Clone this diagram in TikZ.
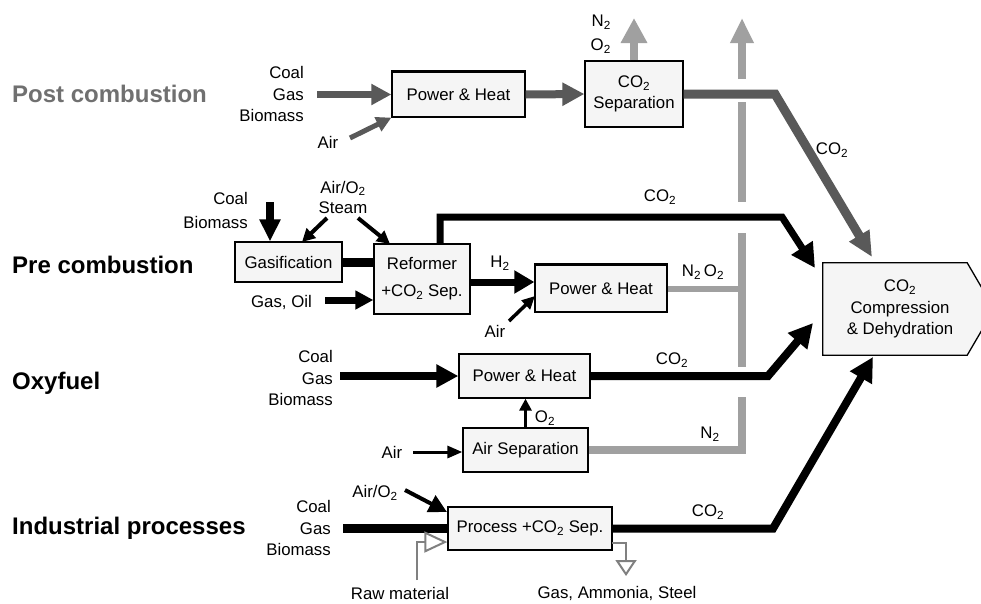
\documentclass[tikz,border=0pt]{standalone}
\usepackage{fontspec}
\setmainfont{Liberation Sans}
\usetikzlibrary{arrows.meta}
\newcommand{\two}{\textsubscript{2}}
\definecolor{dg}{HTML}{595959}
\definecolor{lg}{HTML}{A0A0A0}
\definecolor{mg}{HTML}{808080}
\definecolor{boxfill}{HTML}{F5F5F5}
\definecolor{titlegray}{HTML}{707070}
\begin{document}
\begin{tikzpicture}[x=1pt,y=-1pt,
  lbl/.style={inner sep=0pt, font=\fontsize{16.8}{21.5}\selectfont},
  ttl/.style={inner sep=0pt, anchor=west, font=\fontsize{24}{28}\selectfont\bfseries},
  box/.style={draw=black, line width=1.3pt, fill=boxfill, inner sep=0pt, align=center, font=\fontsize{16.8}{21}\selectfont},
  dgline/.style={draw=dg, line width=#1},
  bkline/.style={draw=black, line width=#1},
  lgline/.style={draw=lg, line width=#1},
  trib/.style 2 args={-{Triangle[length=#1pt,width=#2pt]}},
]
\useasboundingbox (0,0) rectangle (981,603);
\clip (0,0) rectangle (981,603);
\fill[white] (0,0) rectangle (981,603);

% ---------- titles
\node[ttl, text=titlegray] (tpost) at (12,94) {Post combustion};
\node[ttl] (tpre) at (12,265) {Pre combustion};
\node[ttl] (toxy) at (12,383) {Oxyfuel};
\node[ttl] (tind) at (12,528) {Industrial processes};

% ---------- boxes
\node[box, minimum width=133pt, minimum height=45pt] (ph1) at (458.5,94.5) {Power \& Heat};
\node[box, minimum width=98pt, minimum height=66pt] (sep1) at (634,94) {CO\two\\Separation};
\node[box, minimum width=107pt, minimum height=40pt] (gas) at (288.5,262) {Gasification};
\node[box, minimum width=96pt, minimum height=70pt, font=\fontsize{16.8}{27}\selectfont] (ref) at (422,279) {Reformer\\+CO\two{} Sep.};
\node[box, minimum width=132pt, minimum height=47pt] (ph2) at (601,288.5) {Power \& Heat};
\node[box, minimum width=131pt, minimum height=44pt] (ph3) at (524.5,376) {Power \& Heat};
\node[box, minimum width=125pt, minimum height=44pt] (asep) at (525.5,450) {Air Separation};
\node[box, minimum width=164pt, minimum height=43pt] (proc) at (530,528.5) {Process +CO\two{} Sep.};
\draw[line width=2.6pt] (ph1.north west) -- (ph1.north east);
\draw[line width=2.6pt] (ph2.north west) -- (ph2.north east);

% compression box
\node[inner sep=0pt, minimum width=144pt, minimum height=92pt] (comp) at (895,309) {};
\draw[line width=1.3pt, fill=boxfill] (comp.north west) -- (comp.north east) -- ([xshift=27pt]comp.east) -- (comp.south east) -- (comp.south west) -- cycle;
\node[lbl, align=center] (comptext) at (900,309) {CO\two\\Compression\\\& Dehydration};

% ---------- labels
\node[lbl, anchor=east, align=right] (inpost) at (304,94) {Coal\\Gas\\Biomass};
\node[lbl] (airpost) at (328,142) {Air};
\node[lbl, anchor=east, align=right, font=\fontsize{16.8}{24}\selectfont] (n2o2a) at (611,34) {N\two\\O\two};
\node[lbl] (co2post) at (832,150) {CO\two};

\node[lbl, anchor=east, align=right, font=\fontsize{16.8}{24}\selectfont] (inpre) at (248,210) {Coal\\Biomass};
\node[lbl, align=center, font=\fontsize{16.8}{20}\selectfont] (airsteam) at (343,197) {Air/O\two\\Steam};
\node[lbl, anchor=east] (gasoil) at (312,302) {Gas, Oil};
\node[lbl] (h2) at (500,263) {H\two};
\node[lbl] (airpre) at (495,331) {Air};
\node[lbl] (co2pre) at (660,197) {CO\two};
\node[lbl] (n2o2b) at (703,272) {N\two\,O\two};

\node[lbl, anchor=east, align=right] (inoxy) at (333,378) {Coal\\Gas\\Biomass};
\node[lbl] (airoxy) at (392,452) {Air};
\node[lbl] (o2oxy) at (545,418) {O\two};
\node[lbl] (co2oxy) at (672,360) {CO\two};
\node[lbl] (n2oxy) at (710,434) {N\two};

\node[lbl, anchor=east, align=right] (inind) at (331,528) {Coal\\Gas\\Biomass};
\node[lbl] (airo2ind) at (375,493) {Air/O\two};
\node[lbl] (raw) at (400,593) {Raw material};
\node[lbl] (prod) at (617,593) {Gas, Ammonia, Steel};
\node[lbl] (co2ind) at (708,512) {CO\two};

% ---------- coordinates
\coordinate (postin) at (317,94.5);
\coordinate (airpostS) at (350,138);
\coordinate (postbend) at (775,94);
\coordinate (comptip1) at (872,257);
\coordinate (sep1up) at (634,18);
\coordinate (v1) at (742,79);
\coordinate (vtop) at (742,18);
\coordinate (v2a) at (742,102);
\coordinate (v2b) at (742,202);
\coordinate (v3a) at (742,233);
\coordinate (v3b) at (742,367);
\coordinate (v4a) at (742,397);

\coordinate (coaldown) at (270,202);
\coordinate (as1) at (327,218);
\coordinate (as1t) at (302,242);
\coordinate (as2) at (358,218);
\coordinate (as2t) at (390,244);
\coordinate (gasoilS) at (325,300);
\coordinate (h2a) at (470,282);
\coordinate (airpreS) at (509,321);
\coordinate (airpreT) at (535,296);
\coordinate (precorner) at (440,217);
\coordinate (prebend) at (782,217);
\coordinate (comptip2) at (815,268);

\coordinate (oxyin) at (340,376);
\coordinate (airoxyS) at (413,452);
\coordinate (oxybend) at (768,376);
\coordinate (comptip3) at (813,323);

\coordinate (indin) at (343,528.5);
\coordinate (airo2S) at (405,490);
\coordinate (airo2T) at (447,512);
\coordinate (rawS) at (417,580);
\coordinate (rawC) at (417,542);
\coordinate (outS) at (612,543);
\coordinate (outC) at (626,543);
\coordinate (outT) at (626,576);
\coordinate (indbend) at (773,528.5);
\coordinate (comptip4) at (873,357);

% ---------- light gray (N2 / O2 vent)
\draw[lgline=8pt, trib={25}{22}] (v1) -- (vtop);
\draw[lgline=8pt] (v2a) -- (v2b);
\draw[lgline=8pt] (v3a) -- (v3b);
\draw[lgline=6pt] (ph2.east) -- (ph2.east -| v3a);
\draw[lgline=7.5pt] (asep.east) -- (asep.east -| v4a) -- (v4a);
\draw[lgline=8pt, trib={25}{25}] (sep1.north) -- (sep1up);

% ---------- post combustion
\draw[dgline=7pt, trib={20}{20}] (postin) -- (ph1.west);
\draw[dgline=5pt, trib={15}{15}] (airpostS) -- (ph1.south west);
\draw[dgline=8pt, trib={22}{22}] (ph1.east) -- (sep1.west);
\draw[dgline=9pt, trib={25}{22}] (sep1.east) -- (postbend) -- (comptip1);

% ---------- pre combustion
\draw[bkline=8pt, trib={22}{20}] (coaldown) -- (coaldown |- gas.north);
\draw[bkline=4pt, trib={13}{13}] (as1) -- (as1t);
\draw[bkline=4pt, trib={13}{13}] (as2) -- (as2t);
\draw[bkline=9pt] (gas.east) -- (gas.east -| ref.west);
\draw[bkline=7pt, trib={18}{18}] (gasoilS) -- (gasoilS -| ref.west);
\draw[bkline=7pt, trib={20}{22}] (h2a) -- (h2a -| ph2.west);
\draw[bkline=3.5pt, trib={13}{12}] (airpreS) -- (airpreT);
\draw[bkline=7pt, trib={24}{24}] ([xshift=18pt]ref.north) -- (precorner) -- (prebend) -- (comptip2);

% ---------- oxyfuel
\draw[bkline=8pt, trib={22}{22}] (oxyin) -- (oxyin -| ph3.west);
\draw[bkline=3pt, trib={12}{12}] (asep.north) -- (asep.north |- ph3.south);
\draw[bkline=3pt, trib={15}{12}] (airoxyS) -- (airoxyS -| asep.west);
\draw[bkline=8pt, trib={24}{24}] (ph3.east) -- (oxybend) -- (comptip3);

% ---------- industrial
\draw[bkline=9pt] (indin) -- (proc.west);
\draw[bkline=4pt, trib={18}{18}] (airo2S) -- (airo2T);
\draw[draw=mg, line width=2pt, -{Triangle[open,length=23pt,width=21pt]}] (rawS) -- (rawC) -- (rawC -| proc.west);
\draw[draw=mg, line width=2pt, -{Triangle[open,length=16pt,width=21pt]}] (outS) -- (outC) -- (outT);
\draw[bkline=8pt, trib={24}{24}] (proc.east) -- (indbend) -- (comptip4);
\end{tikzpicture}
\end{document}
